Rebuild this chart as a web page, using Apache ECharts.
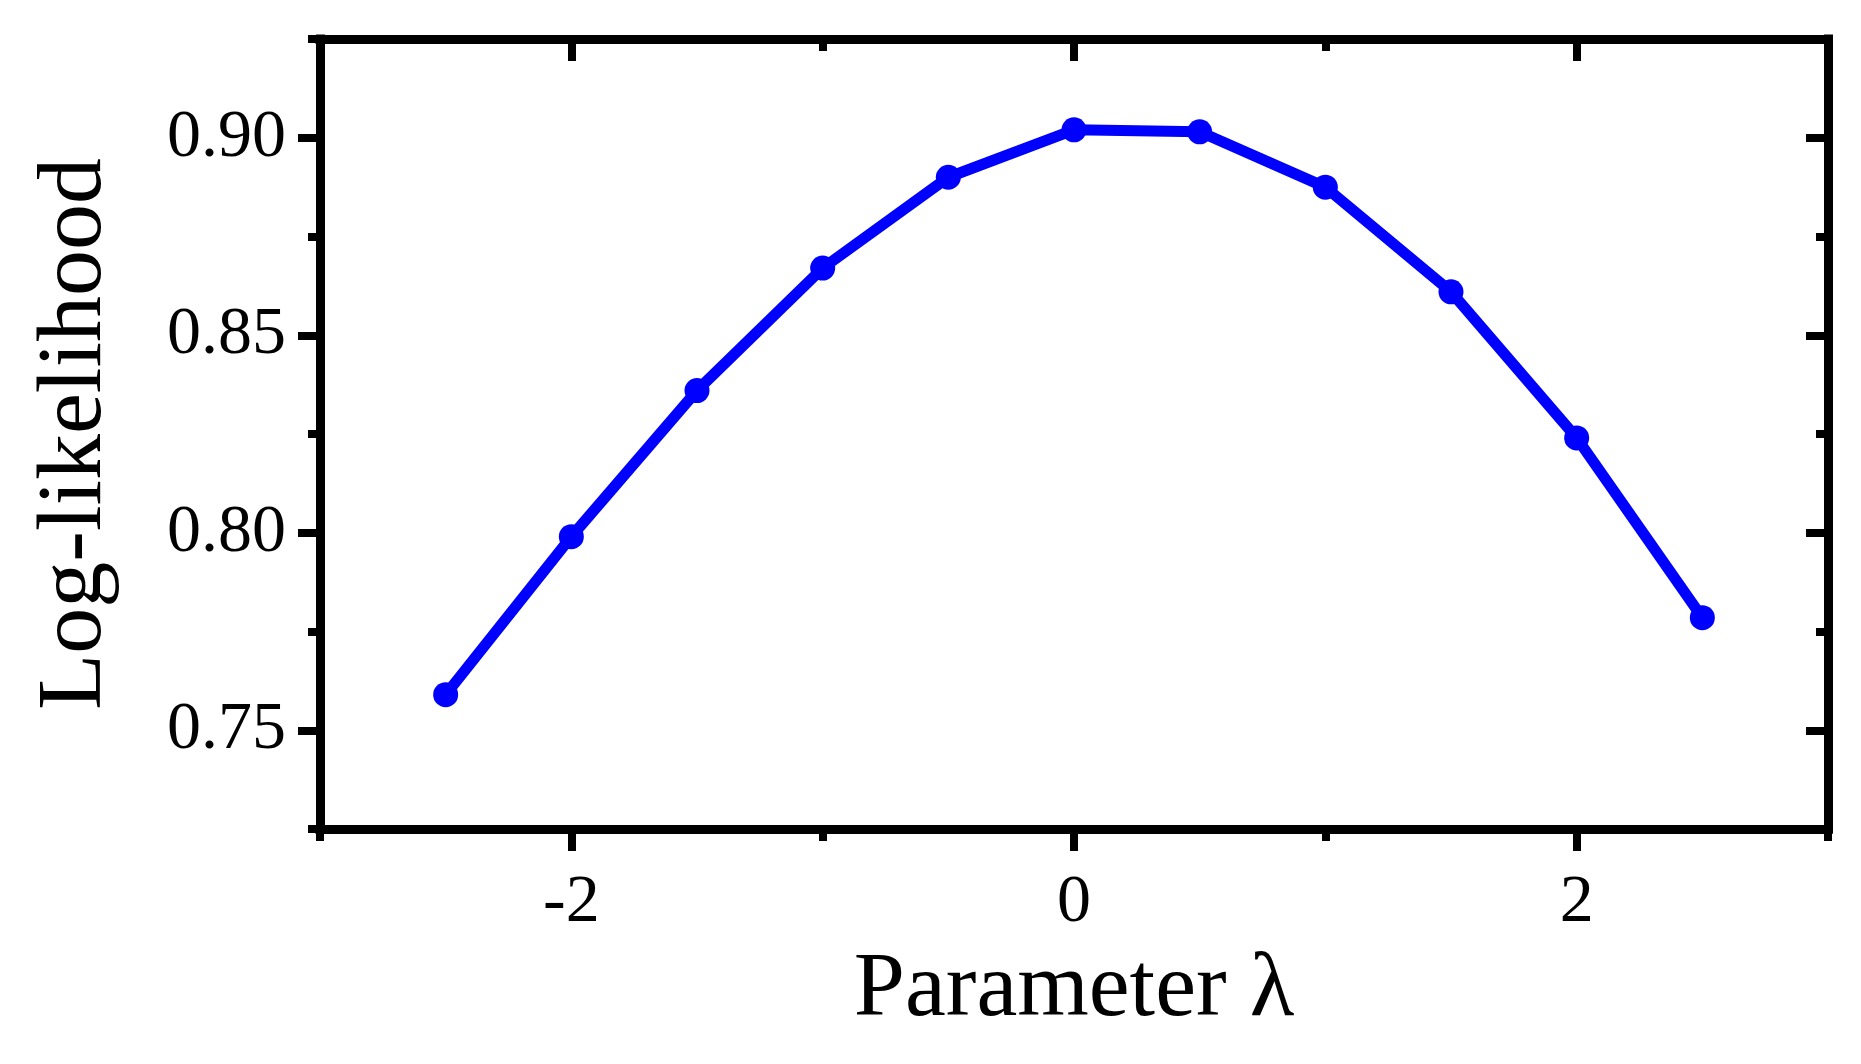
<!DOCTYPE html>
<html>
<head>
<meta charset="utf-8">
<script src="https://cdn.jsdelivr.net/npm/echarts@6/dist/echarts.min.js"></script>
<style>
html,body{margin:0;padding:0;background:#fff;}
#chart{width:1861px;height:1064px;}
</style>
</head>
<body>
<div id="chart"></div>
<script>
const lambdas = [-2.5, -2, -1.5, -1, -0.5, 0, 0.5, 1, 1.5, 2, 2.5];
const logLikelihood = [0.759, 0.799, 0.836, 0.867, 0.890, 0.902, 0.9015, 0.8875, 0.861, 0.824, 0.7785];
const xMajorTicks = [-2, 0, 2];
const xMinorTicks = [-3, -1, 1, 3];
const yMajorTicks = [0.75, 0.80, 0.85, 0.90];
const yMinorTicks = [0.725, 0.775, 0.825, 0.875, 0.925];
const xName = 'Parameter λ';
const yName = 'Log-likelihood';

const FONT = '"Liberation Serif", "DejaVu Serif", serif';
const AXW = 9;
const MAJ = 22, MIN = 12, TW = 8;

const chart = echarts.init(document.getElementById('chart'), null, {renderer: 'canvas'});

function xAxisDef(pos, ticks, len, inside, showLine, showLabel, extra) {
  return Object.assign({
    type: 'value', position: pos, min: -3, max: 3,
    axisLine: {show: showLine, onZero: false, lineStyle: {color: '#000', width: AXW, cap: 'square'}},
    axisTick: {show: true, inside: inside, length: len, customValues: ticks, lineStyle: {color: '#000', width: TW}},
    axisLabel: {show: showLabel, customValues: ticks, margin: 40, color: '#000', fontFamily: FONT, fontSize: 68},
    splitLine: {show: false}
  }, extra || {});
}
function yAxisDef(pos, ticks, len, inside, showLine, showLabel, extra) {
  return Object.assign({
    type: 'value', position: pos, min: 0.725, max: 0.925,
    axisLine: {show: showLine, onZero: false, lineStyle: {color: '#000', width: AXW, cap: 'square'}},
    axisTick: {show: true, inside: inside, length: len, customValues: ticks, lineStyle: {color: '#000', width: TW}},
    axisLabel: {show: showLabel, customValues: ticks, margin: 34, color: '#000', fontFamily: FONT, fontSize: 68,
      formatter: v => v.toFixed(2)},
    splitLine: {show: false}
  }, extra || {});
}

chart.setOption({
  backgroundColor: '#fff',
  animation: false,
  grid: {left: 320, right: 33, top: 39, bottom: 235, containLabel: false},
  xAxis: [
    xAxisDef('bottom', xMajorTicks, MAJ, false, true, true, {
      name: xName, nameLocation: 'middle', nameGap: 116,
      nameTextStyle: {color: '#000', fontFamily: FONT, fontSize: 92}
    }),
    xAxisDef('bottom', xMinorTicks, MIN, false, false, false),
    xAxisDef('top', xMajorTicks, MAJ, true, true, false),
    xAxisDef('top', xMinorTicks, MIN, true, false, false)
  ],
  yAxis: [
    yAxisDef('left', yMajorTicks, MAJ, false, true, true, {
      name: yName, nameLocation: 'middle', nameGap: 198,
      nameTextStyle: {color: '#000', fontFamily: FONT, fontSize: 92}
    }),
    yAxisDef('left', yMinorTicks, MIN, false, false, false),
    yAxisDef('right', yMajorTicks, MAJ, true, true, false),
    yAxisDef('right', yMinorTicks, MIN, true, false, false)
  ],
  series: [{
    type: 'line',
    xAxisIndex: 0, yAxisIndex: 0,
    data: lambdas.map((x, i) => [x, logLikelihood[i]]),
    symbol: 'circle', symbolSize: 25,
    lineStyle: {color: '#0000ff', width: 11},
    itemStyle: {color: '#0000ff'},
    z: 5
  }]
});
</script>
</body>
</html>
